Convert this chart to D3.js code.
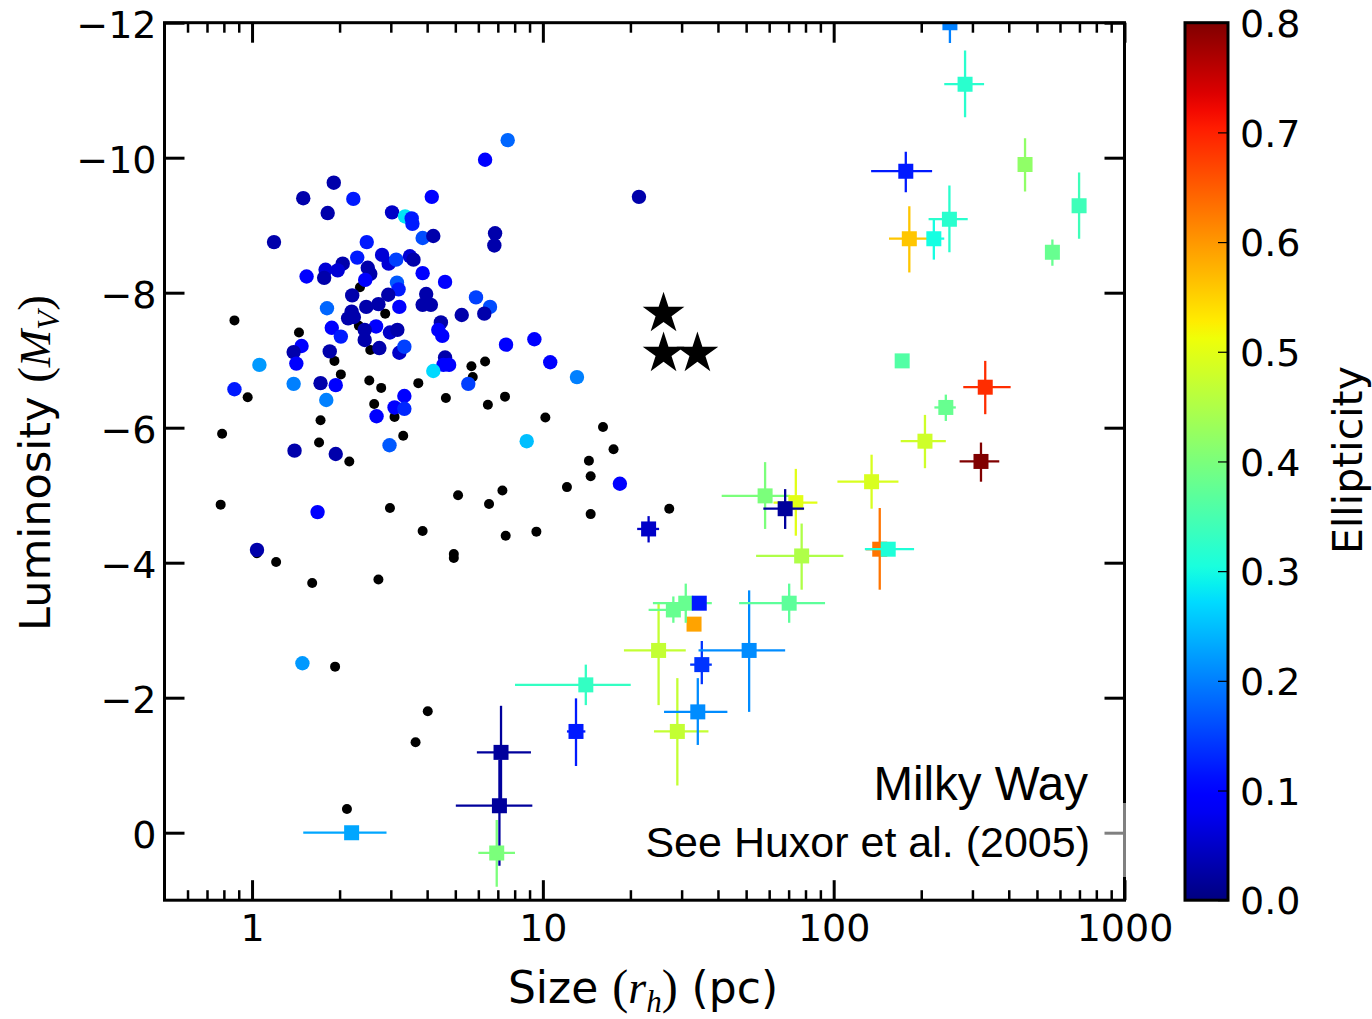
<!DOCTYPE html>
<html><head><meta charset="utf-8">
<script src="https://cdn.jsdelivr.net/npm/d3@7"></script>
<style>body{margin:0;background:#fff}svg{display:block}</style>
</head><body>
<svg id="chart" width="1372" height="1019"></svg>
<script>
// ---------------- DATA ----------------
const xTickValues = [1, 10, 100, 1000];
const xTickLabels = ["1", "10", "100", "1000"];
const xMinorValues = [0.6,0.7,0.8,0.9,2,3,4,5,6,7,8,9,20,30,40,50,60,70,80,90,200,300,400,500,600,700,800,900];
const yTickValues = [-12, -10, -8, -6, -4, -2, 0];
const yTickLabels = ["\u221212", "\u221210", "\u22128", "\u22126", "\u22124", "\u22122", "0"];
const cbarTickValues = [0, 0.1, 0.2, 0.3, 0.4, 0.5, 0.6, 0.7, 0.8];
const cbarTickLabels = ["0.0", "0.1", "0.2", "0.3", "0.4", "0.5", "0.6", "0.7", "0.8"];

// Milky Way GCs without ellipticity: [r_h (pc), M_V]
const gcNoEll = [
[0.87,-7.59],[1.45,-7.41],[0.966,-6.45],[0.789,-5.91],[1.72,-6.11],[1.70,-5.78],[2.16,-5.50],[0.78,-4.86],
[1.92,-6.99],[2.02,-6.79],[2.35,-8.08],[2.87,-7.69],[2.33,-7.51],[2.55,-7.15],[2.53,-6.70],[2.78,-6.59],
[2.63,-6.35],[3.09,-6.16],[3.31,-5.88],[3.73,-6.66],[4.64,-6.44],[5.68,-6.91],[5.74,-6.75],[6.33,-6.98],
[6.47,-6.34],[7.41,-6.46],[10.2,-6.15],[2.98,-4.81],[3.86,-4.47],[5.11,-5.00],[4.94,-4.13],[4.94,-4.07],
[6.53,-4.87],[7.26,-5.07],[7.45,-4.40],[9.50,-4.46],[1.04,-4.14],[1.21,-4.01],[1.61,-3.70],[2.72,-3.75],
[1.93,-2.46],[4.02,-1.80],[3.65,-1.34],[2.12,-0.35],[16.1,-6.01],[17.5,-5.68],[14.4,-5.51],[14.6,-5.28],
[12.1,-5.12],[14.6,-4.72],[27.2,-4.80]
];

// Milky Way GCs with ellipticity: [r_h (pc), M_V, ellipticity]
const gcEll = [
[7.57,-10.26,0.18],[6.33,-9.97,0.10],[1.91,-9.63,0.03],[1.50,-9.40,0.03],[2.23,-9.39,0.12],[1.82,-9.18,0.03],
[3.03,-9.19,0.05],[4.15,-9.42,0.10],[3.36,-9.13,0.28],[3.54,-9.10,0.12],[3.56,-9.02,0.12],[1.19,-8.75,0.03],
[2.48,-8.75,0.12],[3.86,-8.81,0.16],[4.20,-8.84,0.03],[6.85,-8.88,0.03],[6.81,-8.70,0.03],[2.80,-8.56,0.06],
[2.95,-8.43,0.06],[3.13,-8.49,0.15],[2.30,-8.52,0.12],[2.05,-8.43,0.03],[1.79,-8.34,0.06],[1.97,-8.33,0.06],
[1.54,-8.24,0.10],[1.77,-8.22,0.03],[2.50,-8.37,0.03],[2.55,-8.28,0.03],[2.45,-8.19,0.10],[3.49,-8.54,0.06],
[3.59,-8.49,0.03],[3.86,-8.29,0.10],[4.61,-8.16,0.10],[3.15,-8.15,0.17],[3.19,-8.05,0.12],[2.94,-7.97,0.03],
[2.21,-7.96,0.03],[3.97,-7.98,0.03],[5.89,-7.93,0.15],[6.58,-7.79,0.16],[6.29,-7.69,0.03],[1.81,-7.77,0.18],
[2.20,-7.72,0.03],[2.47,-7.79,0.03],[2.72,-7.83,0.03],[3.21,-7.79,0.10],[3.86,-7.82,0.03],[4.12,-7.82,0.03],
[2.14,-7.62,0.03],[2.24,-7.64,0.03],[2.67,-7.50,0.10],[2.44,-7.45,0.03],[2.44,-7.30,0.03],[2.98,-7.41,0.05],
[3.16,-7.45,0.03],[4.46,-7.56,0.03],[4.37,-7.45,0.10],[4.51,-7.36,0.10],[5.26,-7.67,0.03],[1.88,-7.48,0.10],
[2.02,-7.35,0.12],[1.48,-7.21,0.10],[1.39,-7.12,0.03],[1.42,-6.95,0.10],[1.85,-7.13,0.03],[2.74,-7.18,0.03],
[3.21,-7.11,0.05],[3.34,-7.20,0.15],[4.61,-7.04,0.03],[4.55,-6.93,0.10],[4.76,-6.93,0.10],[7.47,-7.23,0.10],
[9.35,-7.31,0.10],[10.6,-6.97,0.10],[1.06,-6.93,0.22],[0.87,-6.57,0.12],[1.39,-6.65,0.20],[1.72,-6.66,0.03],
[1.94,-6.63,0.10],[1.80,-6.41,0.20],[4.20,-6.84,0.27],[5.54,-6.65,0.15],[3.34,-6.47,0.10],[3.09,-6.30,0.10],
[3.34,-6.28,0.13],[2.68,-6.17,0.10],[2.97,-5.74,0.17],[1.40,-5.66,0.03],[1.94,-5.61,0.03],[8.80,-5.80,0.25],
[1.68,-4.75,0.10],[1.04,-4.19,0.03],[1.49,-2.51,0.22],[18.4,-5.17,0.10],[13.1,-6.75,0.20],[21.4,-9.42,0.03]
];

// Extended objects (Huxor et al.): [r_h, M_V, ellipticity, r_lo, r_hi, M_lo, M_hi]
const extObjects = [
[2.20, 0.00,0.23, 1.50, 2.90, null, null],
[7.18,-1.19,0.02, 5.93, 9.10,-1.88,-0.48],
[7.09,-0.40,0.02, 5.02, 9.20,-1.08, 0.49],
[6.94, 0.30,0.40, 6.00, 8.02,-0.19, 0.80],
[14.05,-2.19,0.33, 8.02,20.05,-2.49,-1.89],
[13.0,-1.50,0.12,12.1,14.0,-1.99,-0.99],
[25.0,-2.70,0.47,19.0,31.0,-3.40,-1.89],
[29.0,-1.50,0.47,24.1,37.1,-2.29,-0.70],
[34.1,-1.79,0.21,26.1,43.1,-2.29,-1.30],
[35.2,-2.49,0.14,32.1,38.1,-2.84,-2.20],
[51.2,-2.70,0.21,34.3,68.1,-3.59,-1.79],
[33.1,-3.09,0.59,null,null,null,null],
[31.0,-3.40,0.38,23.9,38.1,-3.69,-3.11],
[28.1,-3.30,0.38,23.1,31.3,-3.50,-3.11],
[34.5,-3.40,0.12,null,null,null,null],
[70.3,-3.40,0.37,47.3,93.4,-3.69,-3.11],
[77.6,-4.10,0.45,54.1,108,-4.58,-3.60],
[58.1,-4.99,0.40,41.2,70.8,-5.49,-4.50],
[74.1,-4.89,0.50,62.1,87.9,-5.39,-4.40],
[68.1,-4.80,0.02,57.3,79.1,-5.09,-4.50],
[23.1,-4.50,0.05,21.1,25.1,-4.69,-4.30],
[135,-5.20,0.49,103,167,-5.60,-4.80],
[144,-4.20,0.63,129,161,-4.81,-3.60],
[154,-4.20,0.31,128,189,null,null],
[172,-6.99,0.36,null,null,null,null],
[332,-6.60,0.69,279,406,-6.99,-6.20],
[243,-6.30,0.38,222,263,-6.49,-6.10],
[206,-5.80,0.48,170,243,-6.19,-5.40],
[321,-5.50,0.80,271,371,-5.78,-5.20],
[177,-9.80,0.12,134.5,218,-10.09,-9.49],
[182,-8.80,0.56,155,214,-9.28,-8.30],
[221,-8.80,0.30,212,240,-9.08,-8.49],
[250,-9.09,0.32,212,289,-9.59,-8.60],
[283,-11.09,0.32,240,329,-11.59,-10.60],
[251,-12.0,0.20,null,null,-12.5,-11.70],
[455,-9.90,0.42,null,null,-10.29,-9.50],
[565,-8.60,0.38,null,null,-8.79,-8.40],
[698,-9.29,0.34,null,null,-9.78,-8.80]
];

// Stars: [r_h, M_V]
const starObjects = [[26.0,-7.69],[26.0,-7.10],[34.0,-7.10]];

// ---------------- CHART ----------------
const svg = d3.select("#chart");
const L = 164.5, R = 1124.5, T = 22.7, B = 900.2;
const x = d3.scaleLog().domain([0.5, 1000]).range([L, R]);
const y = d3.scaleLinear().domain([-12, 1]).range([T, B]);

function jet(t) {
  t = Math.max(0, Math.min(1, t));
  const seg = (pts) => {
    for (let i = 0; i < pts.length - 1; i++) {
      if (t <= pts[i+1][0]) {
        const [x0,y0] = pts[i], [x1,y1] = pts[i+1];
        return y0 + (y1 - y0) * (t - x0) / (x1 - x0);
      }
    }
    return pts[pts.length-1][1];
  };
  const r = seg([[0,0],[0.35,0],[0.66,1],[0.89,1],[1,0.5]]);
  const g = seg([[0,0],[0.125,0],[0.375,1],[0.64,1],[0.91,0],[1,0]]);
  const b = seg([[0,0.5],[0.11,1],[0.34,1],[0.65,0],[1,0]]);
  return d3.rgb(r*255, g*255, b*255).formatHex();
}
const eScale = d3.scaleLinear().domain([0, 0.8]).range([0, 1]).clamp(true);
const col = e => jet(eScale(e));

svg.append("defs").append("clipPath").attr("id","plotclip")
  .append("rect").attr("x",L).attr("y",T).attr("width",R-L).attr("height",B-T);

const plot = svg.append("g").attr("clip-path","url(#plotclip)");

// black dots
plot.append("g").selectAll("circle").data(gcNoEll).join("circle")
  .attr("cx", d => x(d[0])).attr("cy", d => y(d[1])).attr("r", 5).attr("fill", "#000");

// coloured dots
plot.append("g").selectAll("circle").data(gcEll).join("circle")
  .attr("cx", d => x(d[0])).attr("cy", d => y(d[1])).attr("r", 7.2).attr("fill", d => col(d[2]));

// extended objects with error bars
const eg = plot.append("g");
extObjects.forEach(d => {
  const c = col(d[2]);
  const g = eg.append("g");
  if (d[3] !== null) g.append("line").attr("x1", x(d[3])).attr("x2", x(d[4]))
    .attr("y1", y(d[1])).attr("y2", y(d[1])).attr("stroke", c).attr("stroke-width", 2.3);
  if (d[5] !== null) g.append("line").attr("x1", x(d[0])).attr("x2", x(d[0]))
    .attr("y1", y(d[5])).attr("y2", y(d[6])).attr("stroke", c).attr("stroke-width", 2.3);
  g.append("path").attr("d", d3.symbol(d3.symbolSquare, 225)())
    .attr("transform", `translate(${x(d[0])},${y(d[1])})`).attr("fill", c);
});

// stars
plot.append("g").selectAll("path").data(starObjects).join("path")
  .attr("d", d3.symbol(d3.symbolStar, 540)())
  .attr("transform", d => `translate(${x(d[0])},${y(d[1])})`).attr("fill", "#000");

// ---------------- AXES ----------------
function styleAxis(g, w) {
  g.select(".domain").remove();
  g.selectAll(".tick line").attr("stroke", "#000").attr("stroke-width", w);
  g.selectAll("text").attr("font-family", "DejaVu Sans").attr("font-size", 38).attr("fill", "#000");
}
// bottom
svg.append("g").attr("transform", `translate(0,${B})`)
  .call(d3.axisBottom(x).tickValues(xMinorValues).tickSize(-10).tickSizeOuter(0).tickFormat(""))
  .call(g => styleAxis(g, 2.5));
svg.append("g").attr("transform", `translate(0,${B})`)
  .call(d3.axisBottom(x).tickValues(xTickValues).tickSize(-20).tickSizeOuter(0).tickPadding(14)
    .tickFormat((d,i) => xTickLabels[i]))
  .call(g => styleAxis(g, 3));
// top
svg.append("g").attr("transform", `translate(0,${T})`)
  .call(d3.axisTop(x).tickValues(xMinorValues).tickSize(-10).tickSizeOuter(0).tickFormat(""))
  .call(g => styleAxis(g, 2.5));
svg.append("g").attr("transform", `translate(0,${T})`)
  .call(d3.axisTop(x).tickValues(xTickValues).tickSize(-20).tickSizeOuter(0).tickFormat(""))
  .call(g => styleAxis(g, 3));
// left
svg.append("g").attr("transform", `translate(${L},0)`)
  .call(d3.axisLeft(y).tickValues(yTickValues).tickSize(-20).tickSizeOuter(0).tickPadding(8)
    .tickFormat((d,i) => yTickLabels[i]))
  .call(g => { styleAxis(g, 3); g.selectAll("text").attr("dy", "0.38em"); });
// right
svg.append("g").attr("transform", `translate(${R},0)`)
  .call(d3.axisRight(y).tickValues(yTickValues).tickSize(-20).tickSizeOuter(0).tickFormat(""))
  .call(g => styleAxis(g, 3));

// frame
svg.append("rect").attr("x", L).attr("y", T).attr("width", R-L).attr("height", B-T)
  .attr("fill", "none").attr("stroke", "#000").attr("stroke-width", 3);

// semi-transparent legend box over right spine
svg.append("rect").attr("x", 640).attr("y", 803).attr("width", 492).attr("height", 74)
  .attr("fill", "#fff").attr("fill-opacity", 0.5);

// annotations
svg.append("text").attr("x", 1088).attr("y", 800).attr("text-anchor", "end")
  .attr("font-family", "Liberation Sans, Arial, sans-serif").attr("font-size", 47.5).text("Milky Way");
svg.append("text").attr("x", 1090).attr("y", 857).attr("text-anchor", "end")
  .attr("font-family", "Liberation Sans, Arial, sans-serif").attr("font-size", 43).text("See Huxor et al. (2005)");

// axis labels
const xl = svg.append("text").attr("x", 643).attr("y", 1003).attr("text-anchor", "middle")
  .attr("font-family", "DejaVu Sans").attr("font-size", 44);
xl.append("tspan").text("Size ");
xl.append("tspan").attr("font-family", "Liberation Serif").attr("font-size", 48).text("(");
xl.append("tspan").attr("font-family", "Liberation Serif").attr("font-style", "italic").attr("font-size", 46).text("r");
xl.append("tspan").attr("font-family", "Liberation Serif").attr("font-style", "italic").attr("font-size", 31).attr("dy", 9).text("h");
xl.append("tspan").attr("font-family", "Liberation Serif").attr("font-size", 48).attr("dy", -9).text(")");
xl.append("tspan").text(" (pc)");

const yl = svg.append("text").attr("transform", "translate(50,463) rotate(-90)").attr("text-anchor", "middle")
  .attr("font-family", "DejaVu Sans").attr("font-size", 43);
yl.append("tspan").text("Luminosity ");
yl.append("tspan").attr("font-family", "Liberation Serif").attr("font-size", 47).text("(");
yl.append("tspan").attr("font-family", "Liberation Serif").attr("font-style", "italic").attr("font-size", 45).text("M");
yl.append("tspan").attr("font-family", "Liberation Serif").attr("font-style", "italic").attr("font-size", 31).attr("dy", 9).text("V");
yl.append("tspan").attr("font-family", "Liberation Serif").attr("font-size", 47).attr("dy", -9).text(")");

// ---------------- COLORBAR ----------------
const CL = 1185, CR = 1228;
const cy = d3.scaleLinear().domain([0, 0.8]).range([B, T]);
const grad = svg.select("defs").append("linearGradient").attr("id", "jetgrad")
  .attr("x1", 0).attr("y1", 1).attr("x2", 0).attr("y2", 0);
d3.range(0, 1.0001, 0.02).forEach(t => grad.append("stop").attr("offset", t).attr("stop-color", jet(t)));
svg.append("rect").attr("x", CL).attr("y", T).attr("width", CR-CL).attr("height", B-T)
  .attr("fill", "url(#jetgrad)");
svg.append("g").attr("transform", `translate(${CR},0)`)
  .call(d3.axisRight(cy).tickValues(cbarTickValues).tickSize(-10).tickSizeOuter(0).tickPadding(12)
    .tickFormat((d,i) => cbarTickLabels[i]))
  .call(g => { styleAxis(g, 1.2); g.selectAll("text").attr("dy", "0.36em"); });
svg.append("rect").attr("x", CL).attr("y", T).attr("width", CR-CL).attr("height", B-T)
  .attr("fill", "none").attr("stroke", "#000").attr("stroke-width", 3);
svg.append("text").attr("transform", "translate(1362,460) rotate(-90)").attr("text-anchor", "middle")
  .attr("font-family", "DejaVu Sans").attr("font-size", 41).text("Ellipticity");
</script>
</body></html>
